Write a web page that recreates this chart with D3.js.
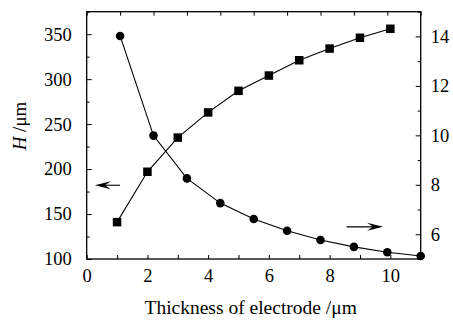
<!DOCTYPE html>
<html>
<head>
<meta charset="utf-8">
<script src="https://cdn.jsdelivr.net/npm/d3@7"></script>
<style>
  body { margin: 0; background: #fff; }
  svg, svg text { font-family: 'Liberation Serif', 'Times New Roman', serif; }
  svg { display: block; }
</style>
</head>
<body>
<svg id="chart"></svg>
<script>
// H (left axis) vs thickness, square markers
const thickness = [1, 2, 3, 4, 5, 6, 7, 8, 9, 10];
const heightH = [141, 197, 235, 263, 287, 304, 321, 334, 346, 356];

// right axis series, circle markers, plotted on the top x axis
const topX = [1, 2, 3, 4, 5, 6, 7, 8, 9, 10];
const rightVals = [14.02, 9.99, 8.26, 7.26, 6.62, 6.14, 5.77, 5.49, 5.27, 5.12];

const bottomTicks = [0, 1, 2, 3, 4, 5, 6, 7, 8, 9, 10, 11];
const leftTicks = [100, 125, 150, 175, 200, 225, 250, 275, 300, 325, 350, 375];
const rightTicks = [5, 6, 7, 8, 9, 10, 11, 12, 13, 14, 15];
const topTicks = [0, 1, 2, 3, 4, 5, 6, 7, 8, 9, 10];

const W = 453, H = 320;
const margin = { top: 11.7, right: 32.3, bottom: 61, left: 86.7 };
const w = W - margin.left - margin.right;
const h = H - margin.top - margin.bottom;

const svg = d3.select('#chart').attr('width', W).attr('height', H);
const g = svg.append('g').attr('transform', `translate(${margin.left},${margin.top})`);

const x = d3.scaleLinear().domain([0, 11]).range([0, w]);
const xTop = d3.scaleLinear().domain([0, 10]).range([0, w]);
const yL = d3.scaleLinear().domain([100, 375]).range([h, 0]);
const yR = d3.scaleLinear().domain([5, 15]).range([h, 0]);

const fs = 18.5;

// bottom axis
const ax = g.append('g')
    .attr('transform', `translate(0,${h})`)
    .call(d3.axisBottom(x).tickValues(bottomTicks)
        .tickSize(-4).tickPadding(10)
        .tickFormat(d => (d % 2 === 0 && d <= 10) ? d : ''));

// top axis (no labels)
const axT = g.append('g')
    .call(d3.axisTop(xTop).tickValues(topTicks)
        .tickSize(-4).tickFormat(''));

// left axis
const ayL = g.append('g')
    .call(d3.axisLeft(yL).tickValues(leftTicks)
        .tickSize(-5).tickPadding(15)
        .tickFormat(d => (d % 50 === 0 && d <= 350) ? d : ''));
ayL.selectAll('.tick line').attr('x2', d => d % 50 === 0 ? 5 : 3);

// right axis
const ayR = g.append('g')
    .attr('transform', `translate(${w},0)`)
    .call(d3.axisRight(yR).tickValues(rightTicks)
        .tickSize(-5).tickPadding(10)
        .tickFormat(d => (d % 2 === 0 && d < 15) ? d : ''));
ayR.selectAll('.tick line').attr('x2', d => d % 2 === 0 ? -5 : -3);

[ax, axT, ayL, ayR].forEach(a => {
    a.attr('font-family', null).attr('font-size', null);
    a.select('.domain').remove();
    a.selectAll('.tick line').attr('stroke', '#000').attr('stroke-width', 1);
    a.selectAll('text')
        .attr('fill', '#000')
        .attr('font-size', fs);
});

// frame
g.append('rect')
    .attr('width', w).attr('height', h)
    .attr('fill', 'none').attr('stroke', '#000').attr('stroke-width', 1.3);

// square series
const lineL = d3.line().x((d, i) => x(thickness[i])).y(d => yL(d));
g.append('path')
    .datum(heightH)
    .attr('d', lineL)
    .attr('fill', 'none').attr('stroke', '#000').attr('stroke-width', 1.1);

const sq = 8.5;
g.selectAll('rect.sq')
    .data(heightH)
    .join('rect')
    .attr('class', 'sq')
    .attr('x', (d, i) => x(thickness[i]) - sq / 2)
    .attr('y', d => yL(d) - sq / 2)
    .attr('width', sq).attr('height', sq)
    .attr('fill', '#000');

// circle series
const lineR = d3.line().x((d, i) => xTop(topX[i])).y(d => yR(d));
g.append('path')
    .datum(rightVals)
    .attr('d', lineR)
    .attr('fill', 'none').attr('stroke', '#000').attr('stroke-width', 1.1);

g.selectAll('circle.pt')
    .data(rightVals)
    .join('circle')
    .attr('class', 'pt')
    .attr('cx', (d, i) => xTop(topX[i]))
    .attr('cy', d => yR(d))
    .attr('r', 4.3)
    .attr('fill', '#000');

// arrows pointing to their axes
function arrow(x1, y1, x2, y2) {
    // tip at (x2, y2)
    const dir = Math.sign(x2 - x1);
    const L = 16, hw = 4, notch = 10;
    g.append('line')
        .attr('x1', x1).attr('y1', y1).attr('x2', x2 - dir * 4).attr('y2', y2)
        .attr('stroke', '#000').attr('stroke-width', 1.1);
    g.append('path')
        .attr('d', `M${x2},${y2} L${x2 - dir * L},${y2 - hw} L${x2 - dir * notch},${y2} L${x2 - dir * L},${y2 + hw} Z`)
        .attr('fill', '#000');
}
arrow(x(1.1), yL(182), x(0.27), yL(182));
arrow(x(8.56), yR(6.3), x(9.76), yR(6.3));

// axis titles
svg.append('text')
    .attr('x', margin.left + w / 2 - 3)
    .attr('y', 314)
    .attr('text-anchor', 'middle')
    .attr('font-size', 19.5)
    .text('Thickness of electrode /μm');

const yt = svg.append('text')
    .attr('transform', 'translate(26,126) rotate(-90)')
    .attr('text-anchor', 'middle')
    .attr('font-size', 19);
yt.append('tspan').attr('font-style', 'italic').text('H');
yt.append('tspan').text(' /μm');
</script>
</body>
</html>
